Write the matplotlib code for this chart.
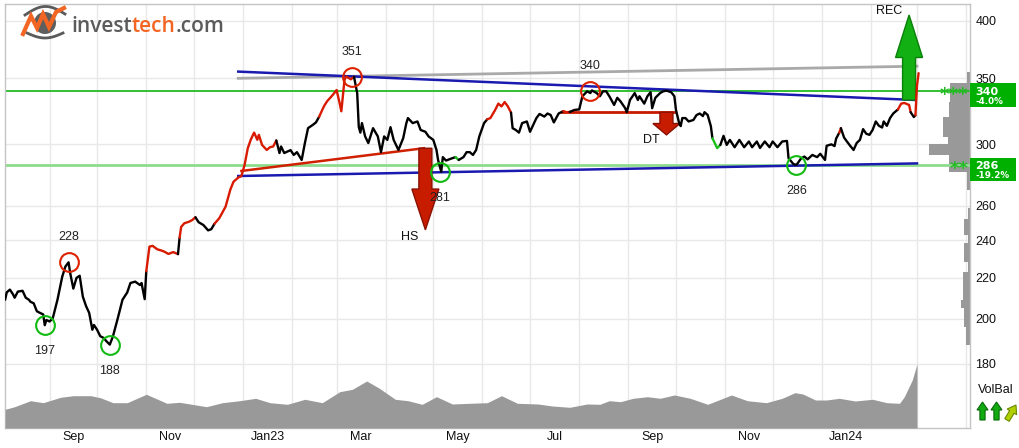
import datetime as dt
import numpy as np
import matplotlib
matplotlib.use("Agg")
import matplotlib.pyplot as plt
import matplotlib.dates as mdates
from matplotlib.ticker import FixedLocator, FixedFormatter, NullLocator, NullFormatter
from matplotlib.patches import Polygon, Rectangle, Circle
from matplotlib.transforms import IdentityTransform

plt.rcParams['font.family'] = ['Liberation Sans', 'DejaVu Sans']

# ---- price data ----
dates = [
    "2022-08-04", "2022-08-05", "2022-08-07", "2022-08-09", "2022-08-10", "2022-08-12", "2022-08-15",
    "2022-08-17", "2022-08-19", "2022-08-20", "2022-08-22", "2022-08-24", "2022-08-26", "2022-08-28",
    "2022-08-29", "2022-08-30", "2022-09-01", "2022-09-03", "2022-09-06", "2022-09-09", "2022-09-11",
    "2022-09-13", "2022-09-14", "2022-09-16", "2022-09-18", "2022-09-20", "2022-09-22", "2022-09-24",
    "2022-09-26", "2022-09-28", "2022-09-29", "2022-10-01", "2022-10-03", "2022-10-05", "2022-10-07",
    "2022-10-09", "2022-10-11", "2022-10-14", "2022-10-17", "2022-10-20", "2022-10-22", "2022-10-25",
    "2022-10-28", "2022-10-29", "2022-10-31", "2022-11-01", "2022-11-03", "2022-11-05", "2022-11-08",
    "2022-11-10", "2022-11-12", "2022-11-15", "2022-11-18", "2022-11-21", "2022-11-22", "2022-11-23",
    "2022-11-25", "2022-11-28", "2022-11-30", "2022-12-02", "2022-12-04", "2022-12-07", "2022-12-10",
    "2022-12-12", "2022-12-14", "2022-12-17", "2022-12-21", "2022-12-24", "2022-12-26", "2022-12-29",
    "2022-12-31", "2023-01-02", "2023-01-04", "2023-01-06", "2023-01-08", "2023-01-10", "2023-01-11",
    "2023-01-13", "2023-01-16", "2023-01-18", "2023-01-20", "2023-01-22", "2023-01-24", "2023-01-25",
    "2023-01-27", "2023-01-31", "2023-02-02", "2023-02-04", "2023-02-07", "2023-02-09", "2023-02-11",
    "2023-02-14", "2023-02-16", "2023-02-18", "2023-02-21", "2023-02-23", "2023-02-25", "2023-02-27",
    "2023-03-01", "2023-03-03", "2023-03-04", "2023-03-06", "2023-03-07", "2023-03-10", "2023-03-12",
    "2023-03-14", "2023-03-15", "2023-03-16", "2023-03-17", "2023-03-19", "2023-03-21", "2023-03-24",
    "2023-03-27", "2023-03-29", "2023-03-31", "2023-04-02", "2023-04-04", "2023-04-06", "2023-04-09",
    "2023-04-12", "2023-04-14", "2023-04-15", "2023-04-18", "2023-04-21", "2023-04-23", "2023-04-26",
    "2023-04-28", "2023-05-01", "2023-05-03", "2023-05-04", "2023-05-06", "2023-05-07", "2023-05-09",
    "2023-05-13", "2023-05-15", "2023-05-17", "2023-05-20", "2023-05-22", "2023-05-24", "2023-05-26",
    "2023-05-28", "2023-05-30", "2023-06-02", "2023-06-04", "2023-06-06", "2023-06-09", "2023-06-11",
    "2023-06-13", "2023-06-15", "2023-06-17", "2023-06-19", "2023-06-20", "2023-06-22", "2023-06-24",
    "2023-06-26", "2023-06-29", "2023-07-01", "2023-07-03", "2023-07-05", "2023-07-07", "2023-07-10",
    "2023-07-12", "2023-07-14", "2023-07-16", "2023-07-19", "2023-07-22", "2023-07-24", "2023-07-26",
    "2023-07-29", "2023-08-01", "2023-08-03", "2023-08-06", "2023-08-08", "2023-08-09", "2023-08-12",
    "2023-08-14", "2023-08-16", "2023-08-18", "2023-08-20", "2023-08-23", "2023-08-25", "2023-08-27",
    "2023-08-30", "2023-08-31", "2023-09-02", "2023-09-05", "2023-09-07", "2023-09-08", "2023-09-11",
    "2023-09-13", "2023-09-15", "2023-09-16", "2023-09-18", "2023-09-21", "2023-09-23", "2023-09-25",
    "2023-09-28", "2023-09-30", "2023-10-01", "2023-10-03", "2023-10-04", "2023-10-05", "2023-10-07",
    "2023-10-09", "2023-10-12", "2023-10-14", "2023-10-16", "2023-10-18", "2023-10-19", "2023-10-21",
    "2023-10-23", "2023-10-24", "2023-10-27", "2023-10-29", "2023-10-31", "2023-11-02", "2023-11-04",
    "2023-11-07", "2023-11-10", "2023-11-13", "2023-11-16", "2023-11-18", "2023-11-21", "2023-11-23",
    "2023-11-26", "2023-11-29", "2023-12-01", "2023-12-04", "2023-12-07", "2023-12-10", "2023-12-11",
    "2023-12-14", "2023-12-16", "2023-12-19", "2023-12-21", "2023-12-23", "2023-12-26", "2023-12-29",
    "2023-12-31", "2024-01-03", "2024-01-04", "2024-01-07", "2024-01-09", "2024-01-10", "2024-01-12",
    "2024-01-13", "2024-01-15", "2024-01-17", "2024-01-19", "2024-01-21", "2024-01-23", "2024-01-25",
    "2024-01-27", "2024-01-29", "2024-01-31", "2024-02-02", "2024-02-04", "2024-02-06", "2024-02-08",
    "2024-02-09", "2024-02-11", "2024-02-13", "2024-02-15", "2024-02-18", "2024-02-20", "2024-02-22",
    "2024-02-25", "2024-02-26", "2024-02-28", "2024-02-29", "2024-03-01", "2024-03-02",
]
close = [
    209.0, 212.6, 214.0, 211.6, 210.0, 213.0, 213.4,
    210.0, 209.0, 208.0, 207.3, 203.5, 202.7, 202.0,
    197.0, 199.4, 198.7, 200.1, 209.0, 220.5, 225.8,
    228.0, 222.5, 214.5, 219.9, 221.0, 210.5, 206.0,
    202.7, 194.9, 197.1, 194.9, 192.0, 191.3, 189.7,
    188.3, 192.0, 200.1, 209.0, 212.6, 217.3, 218.0,
    216.3, 217.3, 209.3, 223.3, 236.5, 236.9, 235.0,
    234.5, 233.9, 232.5, 233.5, 232.4, 241.4, 247.6,
    249.7, 250.6, 251.6, 253.2, 250.3, 248.7, 245.6,
    246.3, 249.4, 252.6, 259.5, 270.0, 275.0, 277.7,
    278.7, 286.0, 297.3, 303.6, 308.3, 303.2, 306.7,
    299.6, 296.1, 298.0, 298.5, 302.7, 294.0, 298.5,
    294.0, 296.0, 292.7, 294.6, 289.3, 300.8, 311.5,
    313.9, 315.7, 319.9, 327.7, 331.6, 334.3, 337.2,
    340.4, 329.8, 324.0, 348.5, 351.3, 349.0, 351.0,
    338.0, 312.4, 308.3, 315.2, 305.6, 300.9, 311.5,
    305.6, 294.6, 305.6, 303.1, 312.2, 303.1, 296.1,
    304.3, 315.2, 318.9, 315.2, 316.4, 310.2, 308.9,
    305.6, 303.1, 296.1, 289.3, 281.5, 291.2, 288.9,
    290.5, 291.2, 289.3, 291.2, 294.6, 294.6, 292.7,
    296.1, 305.6, 315.2, 318.0, 318.9, 325.0, 329.8,
    327.7, 331.0, 327.7, 323.0, 311.5, 310.2, 308.3,
    315.2, 316.4, 308.9, 313.9, 318.9, 322.0, 320.0,
    322.3, 321.2, 315.7, 322.3, 324.1, 323.3, 323.5,
    325.0, 325.4, 335.5, 339.4, 338.0, 340.1, 338.0,
    335.5, 339.4, 339.4, 335.5, 328.8, 334.3, 331.6,
    326.3, 323.3, 332.6, 338.0, 332.6, 335.5, 329.8,
    335.5, 338.7, 326.3, 334.3, 338.0, 339.4, 339.9,
    338.7, 335.5, 325.0, 315.2, 313.0, 318.9, 318.9,
    316.4, 317.5, 321.2, 322.3, 320.4, 323.3, 321.2,
    313.0, 304.3, 297.4, 299.6, 306.0, 299.6, 303.1,
    298.0, 303.1, 298.0, 302.0, 298.0, 302.0, 297.5,
    302.0, 298.0, 302.0, 298.0, 302.0, 302.4, 290.5,
    286.6, 286.0, 290.5, 291.6, 289.7, 292.7, 291.2,
    293.5, 289.3, 299.0, 300.0, 298.8, 304.0, 308.3,
    311.5, 304.8, 301.7, 298.8, 296.1, 301.0, 303.1,
    310.8, 307.5, 306.7, 310.2, 316.4, 313.2, 312.0,
    316.4, 313.2, 318.9, 322.3, 325.4, 329.8, 330.3,
    328.8, 323.3, 319.7, 321.0, 344.0, 354.0,
]

# periods where the curve is coloured as rising (red) / falling (green) momentum
red_periods = [
    ("2022-11-01", "2022-11-21"), ("2022-11-22", "2022-12-02"), ("2022-12-14", "2023-01-22"),
    ("2023-02-18", "2023-03-12"), ("2023-06-04", "2023-06-19"), ("2023-07-22", "2023-07-26"),
    ("2024-01-12", "2024-01-13"), ("2024-02-18", "2024-02-26"), ("2024-02-29", "2024-03-02"),
]
green_periods = [("2023-05-15", "2023-05-17"), ("2023-10-24", "2023-10-29")]

# ---- volume (relative) ----
vol_dates = [
    "2022-08-04", "2022-08-10", "2022-08-20", "2022-08-28", "2022-09-08", "2022-09-16", "2022-09-27",
    "2022-10-03", "2022-10-11", "2022-10-20", "2022-11-01", "2022-11-14", "2022-11-22", "2022-12-09",
    "2022-12-19", "2022-12-30", "2023-01-09", "2023-01-18", "2023-01-29", "2023-02-09", "2023-02-20",
    "2023-03-03", "2023-03-11", "2023-03-20", "2023-03-28", "2023-04-07", "2023-04-15", "2023-04-24",
    "2023-05-03", "2023-05-13", "2023-05-24", "2023-06-04", "2023-06-13", "2023-06-23", "2023-07-06",
    "2023-07-15", "2023-07-26", "2023-08-06", "2023-08-14", "2023-08-20", "2023-08-27", "2023-09-04",
    "2023-09-13", "2023-09-21", "2023-09-30", "2023-10-10", "2023-10-21", "2023-10-28", "2023-11-05",
    "2023-11-15", "2023-11-27", "2023-12-07", "2023-12-15", "2023-12-20", "2023-12-28", "2024-01-04",
    "2024-01-12", "2024-01-22", "2024-02-02", "2024-02-11", "2024-02-19", "2024-02-22", "2024-02-27",
    "2024-03-01",
]
volume = [
    18.7, 21.3, 27.3, 25.3, 30.7, 32.3, 32.3,
    30.3, 25.3, 25.3, 33.7, 24.7, 25.7, 21.3,
    25.3, 27.3, 29.7, 25.3, 23.7, 28.7, 25.3,
    36.3, 38.7, 47.0, 39.7, 28.7, 27.3, 23.7,
    31.3, 24.0, 24.7, 25.3, 32.3, 24.7, 24.0,
    22.0, 20.7, 24.0, 23.7, 27.3, 26.3, 29.7,
    31.3, 29.7, 33.0, 29.7, 23.7, 28.0, 33.0,
    27.3, 25.3, 29.7, 35.3, 34.0, 28.0, 28.0,
    29.7, 27.0, 28.7, 25.3, 24.7, 31.3, 48.0,
    64.0,
]

# ---- volume by price (right edge) ----
profile_edges = [355, 346, 331, 320, 305, 300, 293, 281, 276, 270, 259, 252, 243, 238.5,
                 228, 223, 209, 205, 201, 196, 188]
profile_volume = [3, 20, 21, 27, 22, 41, 21, 3, 3, 0, 2, 6, 2, 6, 2, 7, 9, 6, 6, 4]

# ---- trend lines / formations ----
upper_channel = [("2022-12-29", 355.3), ("2024-02-29", 332.6)]
lower_channel = [("2022-12-29", 278.7), ("2024-03-01", 287.0)]
long_line = [("2022-12-29", 349.8), ("2024-03-01", 359.8)]
hs_neckline = [("2022-12-31", 282.0), ("2023-04-25", 297.3)]
dt_support = [("2023-07-21", 323.3), ("2023-09-30", 323.3)]

levels = [340, 286]
level_change = ["-4.0%", "-19.2%"]
level_stars = ["***", "**"]

# tops and bottoms
pivot_dates = ["2022-09-13", "2022-08-29", "2022-10-09", "2023-03-11", "2023-05-05", "2023-08-08", "2023-12-16"]
pivot_values = [228, 197, 188, 351, 281, 340, 286]
pivot_is_top = [True, False, False, True, False, True, False]

# signals: name, date, from, to
signal_names = ["HS", "DT", "REC"]
signal_dates = ["2023-04-26", "2023-09-25", "2024-02-25"]
signal_from = [297.3, 323.3, 332.6]
signal_to = [245.9, 306.7, 405.3]

yticks = [180, 200, 220, 240, 260, 300, 350, 400]
label_months = ["2022-09", "2022-11", "2023-01", "2023-03", "2023-05", "2023-07", "2023-09", "2023-11", "2024-01"]
month_labels = ["Sep", "Nov", "Jan23", "Mar", "May", "Jul", "Sep", "Nov", "Jan24"]

FS = 9


def d(s):
    return mdates.datestr2num(s)


W, H = 1020, 448
fig = plt.figure(figsize=(W / 100, H / 100), dpi=100)
ax = fig.add_axes([5 / W, 20 / H, 965 / W, 424 / H])

# volume at bottom (twin axis, created first so the price axis can be set up afterwards)
vax = ax.twinx()
vax.set_ylim(0, 424)
vax.fill_between([d(s) for s in vol_dates], volume, 0, color="#999999", lw=0)
vax.axis("off")

x = np.array([d(s) for s in dates])
y = np.array(close)

RED, GREEN, BLACK = "#d81a00", "#19c019", "black"


def seg_color(a, b):
    for s, e in red_periods:
        if d(s) <= a and b <= d(e):
            return RED
    for s, e in green_periods:
        if d(s) <= a and b <= d(e):
            return GREEN
    return BLACK


cols = [seg_color(x[i], x[i + 1]) for i in range(len(x) - 1)]
start = 0
for i in range(1, len(cols) + 1):
    if i == len(cols) or cols[i] != cols[start]:
        ax.plot(x[start:i + 1], y[start:i + 1], color=cols[start], lw=1.7,
                solid_joinstyle="round", solid_capstyle="round", zorder=4)
        start = i

# horizontal levels
ax.axhline(levels[0], color="#22bb22", lw=1.3, zorder=2)
ax.axhline(levels[1], color="#8ddc8d", lw=2.0, zorder=2)

for line, c, lw in [(long_line, "#a9a9a9", 2.0), (upper_channel, "#1a1ab0", 1.8),
                    (lower_channel, "#1a1ab0", 1.8), (hs_neckline, "#d02000", 1.8),
                    (dt_support, "#c81800", 2.0)]:
    ax.plot([d(p[0]) for p in line], [p[1] for p in line], color=c, lw=lw, zorder=3)

for dd, v, top in zip(pivot_dates, pivot_values, pivot_is_top):
    ax.plot(d(dd), v, marker="o", ms=13.5, mfc="none", mec="#dd2200" if top else "#11bb11",
            mew=1.5, zorder=5)
    ax.annotate(str(v), (d(dd), v), xytext=(0, 25 if top else -26), textcoords="offset pixels",
                ha="center", va="center", fontsize=FS, color="#222222", zorder=6)

ax.set_yscale("log")
ax.set_xlim(dt.datetime(2022, 8, 3, 22), dt.datetime(2024, 4, 3, 10))
vax.set_xlim(ax.get_xlim())
ax.set_ylim(155.1, 415.8)
ax.yaxis.set_major_locator(FixedLocator(yticks))
ax.yaxis.set_major_formatter(FixedFormatter([str(t) for t in yticks]))
ax.yaxis.set_minor_locator(NullLocator())
ax.yaxis.tick_right()
ax.tick_params(axis="y", which="both", length=0, pad=4, labelsize=FS, colors="#111111",
               labelright=True, labelleft=False)

ax.xaxis.set_major_locator(mdates.MonthLocator())
ax.xaxis.set_major_formatter(NullFormatter())
mids = []
for m in label_months:
    a = dt.datetime.strptime(m, "%Y-%m")
    b = (a + dt.timedelta(days=32)).replace(day=1)
    mids.append((mdates.date2num(a) + mdates.date2num(b)) / 2)
ax.xaxis.set_minor_locator(FixedLocator(mids))
ax.xaxis.set_minor_formatter(FixedFormatter(month_labels))
ax.tick_params(axis="x", which="both", length=0, pad=2.5, labelsize=FS, colors="#111111")

ax.grid(True, which="major", color="#e8e8e8", lw=1, zorder=0)
ax.set_axisbelow(True)
for sp in ax.spines.values():
    sp.set_color("#c4c4c4")
    sp.set_linewidth(1)

# volume by price
ytr = ax.get_yaxis_transform()
for lo, hi, v in zip(profile_edges[1:], profile_edges[:-1], profile_volume):
    if v > 0:
        w = v / 965
        ax.add_patch(Rectangle((1 - w, lo), w, hi - lo, transform=ytr, fc="#999999", ec="none", zorder=1))

# stars at levels
for lv, st in zip(levels, level_stars):
    ax.annotate(st, (0.9985, lv), xycoords=ytr, xytext=(0, -9), textcoords="offset pixels",
                ha="right", va="baseline", fontsize=13, fontweight="bold",
                family="DejaVu Sans", color="#22bb22", zorder=6)

# signal arrows
def arrow(xd, y0, y1, fc, ec, shaft=6.5, head=13.5):
    p0 = ax.transData.transform((xd, y0))
    p1 = ax.transData.transform((xd, y1))
    xc, ya, yb = p0[0], p0[1], p1[1]
    ym = ya + (yb - ya) * 0.5
    verts = [(xc - shaft, ya), (xc + shaft, ya), (xc + shaft, ym), (xc + head, ym), (xc, yb),
             (xc - head, ym), (xc - shaft, ym)]
    ax.add_patch(Polygon(verts, closed=True, transform=IdentityTransform(), fc=fc, ec=ec,
                         lw=1, zorder=3.5))


label_offsets = {"HS": (-16, -7), "DT": (-15, -5), "REC": (-20, 4)}
for nm, dd, a, b in zip(signal_names, signal_dates, signal_from, signal_to):
    if b > a:
        arrow(d(dd), a, b, "#12b012", "#0a800a")
    else:
        arrow(d(dd), a, b, "#c81c00", "#8a1000")
    ax.annotate(nm, (d(dd), b), xytext=label_offsets[nm], textcoords="offset pixels",
                ha="center", va="center", fontsize=FS, color="#111111", zorder=6)

# ---- overlay in pixel coordinates ----
ov = fig.add_axes([0, 0, 1, 1])
ov.set_xlim(0, W)
ov.set_ylim(H, 0)
ov.axis("off")

for lv, txt, pct in zip(levels, [str(l) for l in levels], level_change):
    yp = H - ax.transData.transform((ax.get_xlim()[0], lv))[1]
    ov.add_patch(Rectangle((970, yp - 7.3), 46, 23.3, fc="#00b000", ec="none"))
    ov.text(975, yp + 4.6, txt, color="white", fontsize=8, fontweight="bold",
            family="DejaVu Sans", ha="left", va="baseline")
    ov.text(976, yp + 13.3, pct, color="white", fontsize=6.3, fontweight="bold",
            family="DejaVu Sans", ha="left", va="baseline")

ov.text(978, 390, "VolBal", fontsize=FS, color="#111111", ha="left", va="center")


def pix_arrow(x0, y0, x1, y1, fc, ec, shaft=2.6, head=5.5, hl=8):
    v = np.array([x1 - x0, y1 - y0], float)
    L = np.hypot(*v)
    u = v / L
    n = np.array([-u[1], u[0]])
    p0 = np.array([x0, y0], float)
    pm = p0 + u * (L - hl)
    tip = p0 + v
    verts = [p0 + n * shaft, pm + n * shaft, pm + n * head, tip, pm - n * head,
             pm - n * shaft, p0 - n * shaft]
    ov.add_patch(Polygon(verts, closed=True, fc=fc, ec=ec, lw=0.8))


pix_arrow(982.5, 420, 982.5, 402, "#11aa11", "#0a6a0a")
pix_arrow(996.5, 420, 996.5, 402, "#11aa11", "#0a6a0a")
pix_arrow(1007, 420, 1016, 405, "#b0d000", "#6a8a00")

# logo
ov.add_patch(Circle((45, 23), 11, fc="#5e5e5e", ec="none"))
t = np.linspace(0, 1, 40)
ov.plot(25 + 40 * t, 15 - 8 * np.sin(np.pi * t) - 1 * t, color="#5a5a5a", lw=2)
ov.plot(27 + 36 * t, 33 + 5 * np.sin(np.pi * t), color="#5a5a5a", lw=2)
ov.plot([23, 31, 37, 43, 49, 56, 64], [34, 16, 28, 14, 27, 12, 8], color="#f26522", lw=3,
        solid_joinstyle="miter")

r = fig.canvas.get_renderer()
xpos = 71
for part, c in [("invest", "#5b5b5b"), ("tech", "#f26522"), (".com", "#5b5b5b")]:
    tx = ov.text(xpos, 31.5, part, color=c, fontsize=15, fontweight="semibold",
                 family=["Open Sans", "DejaVu Sans"], ha="left", va="baseline")
    bb = tx.get_window_extent(r)
    xpos += bb.width

fig.savefig("out.png", dpi=100)
